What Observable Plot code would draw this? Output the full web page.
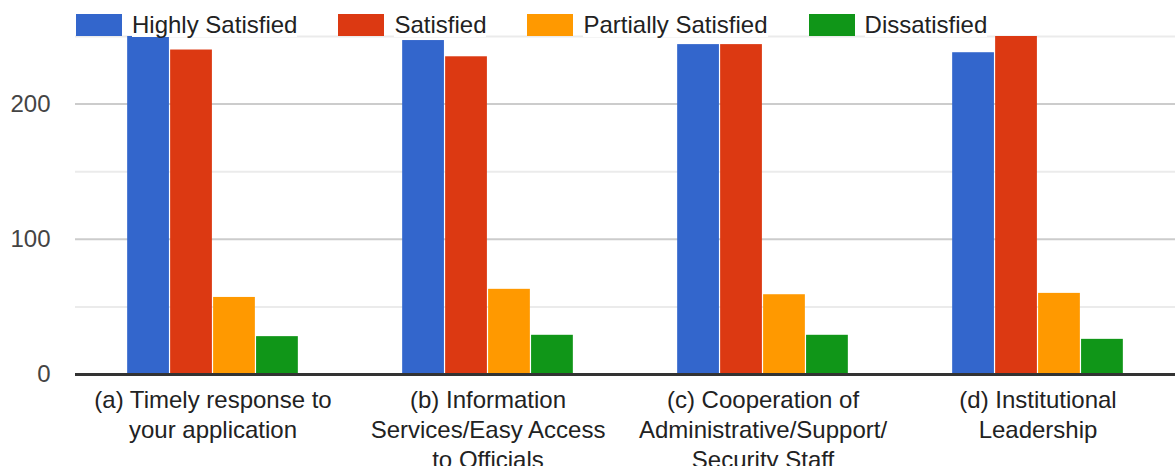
<!DOCTYPE html>
<html>
<head>
<meta charset="utf-8">
<script src="https://cdn.jsdelivr.net/npm/d3@7"></script>
<script src="https://cdn.jsdelivr.net/npm/@observablehq/plot@0.6"></script>
<style>
  html, body { margin: 0; padding: 0; background: #fff; }
  #wrap { position: relative; width: 1175px; height: 466px; overflow: hidden; font-family: "Liberation Sans", Arial, sans-serif; }
  #legend { position: absolute; top: 13px; left: 76px; display: flex; align-items: center; z-index: 2; }
  .item { display: flex; align-items: center; margin-right: 41px; }
  .sw { width: 46px; height: 22px; margin-right: 10px; }
  .lab { font-size: 24px; color: #222; background: #fff; height: 24px; line-height: 24px; }
</style>
</head>
<body>
<div id="wrap"><div id="legend"></div></div>
<script>
const categories = [
  "(a) Timely response to your application",
  "(b) Information Services/Easy Access to Officials",
  "(c) Cooperation of Administrative/Support/Security Staff",
  "(d) Institutional Leadership"
];
const categoryLabels = [
  "(a) Timely response to\nyour application",
  "(b) Information\nServices/Easy Access\nto Officials",
  "(c) Cooperation of\nAdministrative/Support/\nSecurity Staff",
  "(d) Institutional\nLeadership"
];
const series = ["Highly Satisfied", "Satisfied", "Partially Satisfied", "Dissatisfied"];
const highlySatisfied = [250, 247, 244, 238];
const satisfied = [240, 235, 244, 250];
const partiallySatisfied = [57, 63, 59, 60];
const dissatisfied = [28, 29, 29, 26];
const colors = ["#3366cc", "#dc3912", "#ff9900", "#109618"];
const yTicks = [0, 100, 200];
const gridMajor = [100, 200];
const gridMinor = [50, 150, 250];

const valuesBySeries = [highlySatisfied, satisfied, partiallySatisfied, dissatisfied];
const data = categories.flatMap((c, i) => series.map((s, j) => ({category: c, series: s, value: valuesBySeries[j][i]})));

const chart = Plot.plot({
  width: 1175,
  height: 466,
  marginTop: 36,
  marginBottom: 92,
  marginLeft: 75,
  marginRight: 0,
  style: {fontFamily: "'Liberation Sans', Arial, sans-serif", fontSize: "24px", background: "#fff"},
  fx: {domain: categories, padding: 0, round: false, label: null, axis: null},
  x: {domain: series, paddingInner: 0, paddingOuter: 1.2, round: false, axis: null},
  y: {domain: [0, 250], axis: null},
  color: {domain: series, range: colors},
  marks: [
    Plot.ruleY(gridMinor, {stroke: "#ebebeb", strokeWidth: 2}),
    Plot.ruleY(gridMajor, {stroke: "#cccccc", strokeWidth: 2}),
    Plot.barY(data, {fx: "category", x: "series", y: "value", fill: "series", insetLeft: 0.6, insetRight: 0.6}),
    Plot.ruleY([0], {stroke: "#333", strokeWidth: 3}),
    Plot.axisY({ticks: yTicks, tickSize: 0, tickPadding: 25, fontSize: 24, fill: "#444", label: null}),
    Plot.axisFx({anchor: "bottom", tickSize: 0, tickPadding: 12, fontSize: 24, fill: "#222", lineHeight: 1.25, label: null,
      tickFormat: d => categoryLabels[categories.indexOf(d)]})
  ]
});
document.getElementById("wrap").appendChild(chart);

const legend = document.getElementById("legend");
series.forEach((s, i) => {
  const it = document.createElement("div");
  it.className = "item";
  const sw = document.createElement("div");
  sw.className = "sw";
  sw.style.background = colors[i];
  const lab = document.createElement("span");
  lab.className = "lab";
  lab.textContent = s;
  it.appendChild(sw);
  it.appendChild(lab);
  legend.appendChild(it);
});
</script>
</body>
</html>
